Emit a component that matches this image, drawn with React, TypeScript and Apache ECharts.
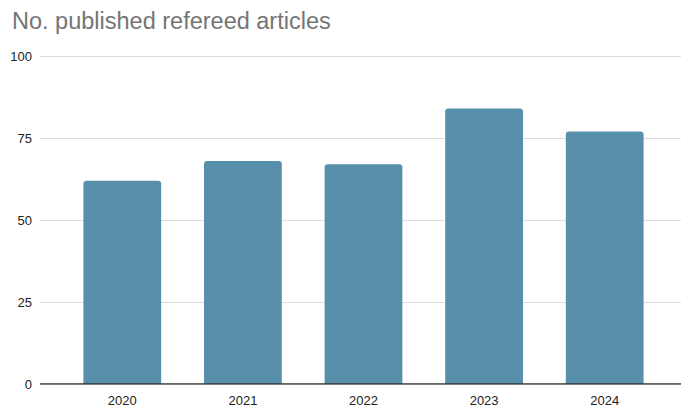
import React, { useEffect, useRef } from "react";
import * as echarts from "echarts";

const title = "No. published refereed articles";
const years = ["2020", "2021", "2022", "2023", "2024"];
const articles = [62, 68, 67, 84, 77];
const yTicks = [0, 25, 50, 75, 100];

export default function App() {
  const ref = useRef<HTMLDivElement>(null);
  useEffect(() => {
    if (!ref.current) return;
    const chart = echarts.init(ref.current, undefined, { renderer: "svg" });
    chart.setOption({
      animation: false,
      backgroundColor: "#ffffff",
      title: {
        text: title,
        left: 7,
        top: 4,
        textStyle: {
          fontFamily: "Liberation Sans, Arial, sans-serif",
          fontSize: 23.5,
          fontWeight: "normal",
          color: "#757575",
        },
      },
      grid: [
        { left: 40, right: 0, top: 56, bottom: 23 },
        { left: 62, right: 16, top: 56, bottom: 23 },
      ],
      xAxis: [
        {
          gridIndex: 0,
          type: "value",
          min: 0,
          max: 1,
          show: true,
          axisLine: { show: false },
          axisTick: { show: false },
          axisLabel: { show: false },
          splitLine: { show: false },
        },
        {
          gridIndex: 1,
          type: "category",
          data: years,
          axisLine: { show: false },
          axisTick: { show: false },
          axisLabel: {
            margin: 10,
            fontFamily: "Liberation Sans, Arial, sans-serif",
            fontSize: 13,
            color: "#222",
          },
        },
      ],
      yAxis: [
        {
          gridIndex: 0,
          type: "value",
          min: yTicks[0],
          max: yTicks[yTicks.length - 1],
          interval: 25,
          axisLine: { show: false },
          axisTick: { show: false },
          axisLabel: {
            margin: 8,
            fontFamily: "Liberation Sans, Arial, sans-serif",
            fontSize: 13,
            color: "#222",
          },
          splitLine: { lineStyle: { color: "#dddddd", width: 1 } },
        },
        {
          gridIndex: 1,
          type: "value",
          min: yTicks[0],
          max: yTicks[yTicks.length - 1],
          interval: 25,
          show: false,
          splitLine: { show: false },
        },
      ],
      series: [
        {
          type: "bar",
          xAxisIndex: 1,
          yAxisIndex: 1,
          data: articles,
          barWidth: "64.5%",
          itemStyle: { color: "#588fab", borderRadius: [3, 3, 0, 0] },
          z: 2,
        },
        {
          type: "line",
          xAxisIndex: 0,
          yAxisIndex: 0,
          data: [
            [0, 0],
            [1, 0],
          ],
          symbol: "none",
          lineStyle: { color: "#333333", width: 1.5 },
          z: 5,
          silent: true,
        },
      ],
    });
    return () => chart.dispose();
  }, []);
  return (
    <div
      ref={ref}
      style={{ position: "fixed", left: 0, top: 0, width: 681, height: 407 }}
    />
  );
}
